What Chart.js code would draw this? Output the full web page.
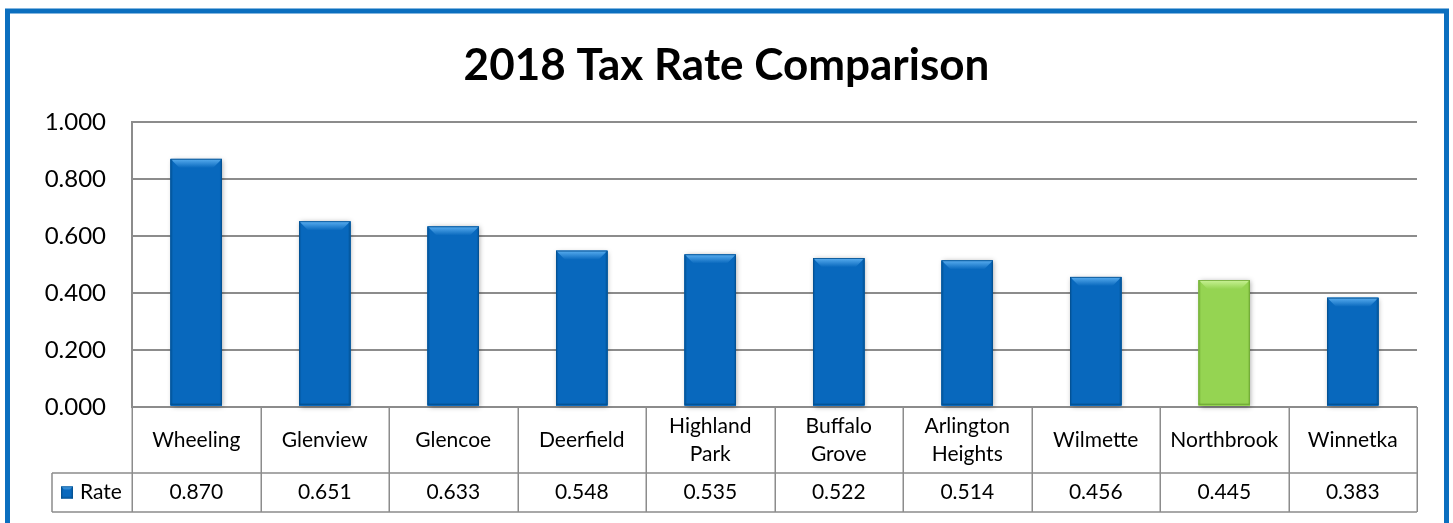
<!DOCTYPE html>
<html>
<head>
<meta charset="utf-8">
<script src="https://cdn.jsdelivr.net/npm/chart.js@4"></script>
<style>
    html, body { margin: 0; padding: 0; background: #fff; }
    #wrap { width: 1453px; height: 523px; }
</style>
</head>
<body>
<div id="wrap"><canvas id="taxChart" width="1453" height="523"></canvas></div>
<script>
// Data
const categories = ['Wheeling', 'Glenview', 'Glencoe', 'Deerfield', ['Highland', 'Park'],
    ['Buffalo', 'Grove'], ['Arlington', 'Heights'], 'Wilmette', 'Northbrook', 'Winnetka'];
const rates = [0.870, 0.651, 0.633, 0.548, 0.535, 0.522, 0.514, 0.456, 0.445, 0.383];
const seriesName = 'Rate';
const highlighted = 'Northbrook';
const yTicks = [0, 0.2, 0.4, 0.6, 0.8, 1.0];

const FONT = 'Lato, "Open Sans", sans-serif';
const GRID = '#8c8c8c';
const BLUE = { body: '#0868bd', light: '#5aaef0', dark: '#04508f' };
const GREEN = { body: '#95d452', light: '#c9f296', dark: '#6fa835' };

function palette(i) {
    return categories[i] === highlighted ? GREEN : BLUE;
}

// draws one bevelled box (used for bars and the legend key)
function bevelBox(ctx, left, top, right, bottom, pal, b) {
    ctx.save();
    ctx.fillStyle = pal.body;
    ctx.fillRect(left, top, right - left, bottom - top);
    // top bevel
    const g = ctx.createLinearGradient(0, top, 0, top + b);
    g.addColorStop(0, pal.light);
    g.addColorStop(1, pal.body);
    ctx.fillStyle = g;
    ctx.beginPath();
    ctx.moveTo(left, top);
    ctx.lineTo(right, top);
    ctx.lineTo(right - b, top + b);
    ctx.lineTo(left + b, top + b);
    ctx.closePath();
    ctx.fill();
    // side shading
    ctx.fillStyle = pal.dark;
    ctx.globalAlpha = 0.35;
    ctx.fillRect(left, top + 1, 2, bottom - top - 1);
    ctx.fillRect(right - 2, top + 1, 2, bottom - top - 1);
    ctx.fillRect(left, bottom - 2, right - left, 2);
    ctx.globalAlpha = 1;
    ctx.strokeStyle = pal.dark;
    ctx.lineWidth = 0.8;
    ctx.strokeRect(left + 0.4, top + 0.4, right - left - 0.8, bottom - top - 0.8);
    ctx.restore();
}

const framePlugin = {
    id: 'frame',
    beforeDraw(chart) {
        const ctx = chart.ctx;
        ctx.save();
        ctx.fillStyle = '#fff';
        ctx.fillRect(0, 0, chart.width, chart.height);
        ctx.strokeStyle = '#0b6fbf';
        ctx.lineWidth = 5;
        ctx.strokeRect(7.5, 11, 1439, 530);
        ctx.restore();
    }
};

const bevelPlugin = {
    id: 'bevel',
    afterDatasetsDraw(chart) {
        const ctx = chart.ctx;
        const meta = chart.getDatasetMeta(0);
        meta.data.forEach((bar, i) => {
            const p = bar.getProps(['x', 'y', 'base', 'width'], true);
            const left = p.x - p.width / 2;
            const right = p.x + p.width / 2;
            ctx.save();
            ctx.shadowColor = 'rgba(0,0,0,0.35)';
            ctx.shadowBlur = 5;
            ctx.shadowOffsetX = 1;
            ctx.shadowOffsetY = 1;
            ctx.fillStyle = palette(i).body;
            ctx.fillRect(left, p.y, right - left, p.base - p.y);
            ctx.restore();
            bevelBox(ctx, left, p.y, right, p.base - 1, palette(i), 9);
        });
    }
};

// Excel-style data table under the plot
const tablePlugin = {
    id: 'dataTable',
    afterDraw(chart) {
        const ctx = chart.ctx;
        const area = chart.chartArea;
        const x = chart.scales.x;
        const n = chart.data.labels.length;
        const step = (area.right - area.left) / n;
        const rowTop = area.bottom;
        const rowMid = area.bottom + 66;
        const rowBot = area.bottom + 105;
        const keyLeft = 52;

        ctx.save();
        ctx.strokeStyle = GRID;
        ctx.lineWidth = 1.5;
        ctx.beginPath();
        for (let i = 0; i <= n; i++) {
            const gx = Math.round(area.left + i * step) + 0.25;
            ctx.moveTo(gx, rowTop);
            ctx.lineTo(gx, rowBot);
        }
        ctx.moveTo(keyLeft, rowMid);
        ctx.lineTo(area.right, rowMid);
        ctx.moveTo(keyLeft, rowBot);
        ctx.lineTo(area.right, rowBot);
        ctx.moveTo(keyLeft, rowMid);
        ctx.lineTo(keyLeft, rowBot);
        ctx.stroke();

        ctx.fillStyle = '#000';
        ctx.font = '21px ' + FONT;
        ctx.textAlign = 'center';
        ctx.textBaseline = 'middle';
        const catMid = (rowTop + rowMid) / 2;
        const valMid = (rowMid + rowBot) / 2;
        chart.data.labels.forEach((lab, i) => {
            const cx = x.getPixelForValue(i);
            const lines = Array.isArray(lab) ? lab : [lab];
            const lh = 28;
            lines.forEach((ln, k) => {
                ctx.fillText(ln, cx, catMid + (k - (lines.length - 1) / 2) * lh);
            });
            ctx.fillText(chart.data.datasets[0].data[i].toFixed(3), cx, valMid);
        });

        // legend key cell
        bevelBox(ctx, 61, valMid - 6, 73, valMid + 6, BLUE, 4);
        ctx.textAlign = 'left';
        ctx.fillText(chart.data.datasets[0].label, 80, valMid);
        ctx.restore();
    }
};

const ctx = document.getElementById('taxChart').getContext('2d');
const taxChart = new Chart(ctx, {
    type: 'bar',
    data: {
        labels: categories,
        datasets: [{
            label: seriesName,
            data: rates,
            backgroundColor: categories.map((c, i) => palette(i).body),
            borderWidth: 0,
            barPercentage: 0.4,
            categoryPercentage: 1.0
        }]
    },
    options: {
        responsive: false,
        animation: false,
        layout: {
            padding: { left: 36, right: 36, top: 0, bottom: 0 }
        },
        plugins: {
            legend: { display: false },
            tooltip: { enabled: false },
            title: {
                display: true,
                text: '2018 Tax Rate Comparison',
                color: '#000',
                font: { family: FONT, size: 44, weight: 'bold', lineHeight: 1.2 },
                padding: { top: 39, bottom: 30 }
            }
        },
        scales: {
            x: {
                ticks: { display: false },
                grid: { display: false },
                border: { display: false },
                afterFit: (axis) => { axis.height = 116; }
            },
            y: {
                min: 0,
                max: 1,
                afterBuildTicks: (axis) => { axis.ticks = yTicks.map(v => ({ value: v })); },
                afterFit: (axis) => { axis.width = 96; },
                ticks: {
                    color: '#000',
                    padding: 26,
                    font: { family: FONT, size: 24 },
                    callback: (v) => Number(v).toFixed(3)
                },
                grid: { color: GRID, lineWidth: 2, drawTicks: false },
                border: { color: GRID, width: 2 }
            }
        }
    },
    plugins: [framePlugin, bevelPlugin, tablePlugin]
});
</script>
</body>
</html>
